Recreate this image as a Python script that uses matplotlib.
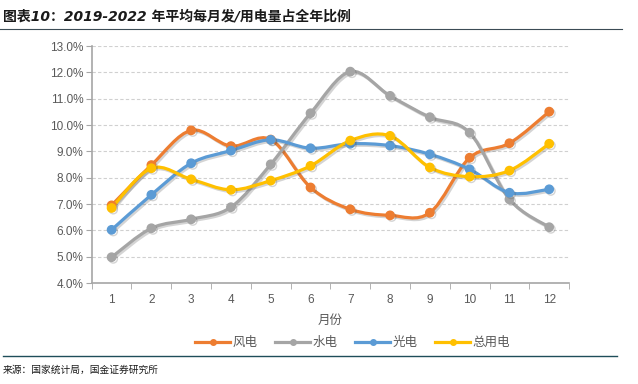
import matplotlib
matplotlib.use("Agg")
import matplotlib.pyplot as plt
import matplotlib.patheffects as pe
from matplotlib.path import Path
from matplotlib.patches import PathPatch
from matplotlib.lines import Line2D
from matplotlib.ticker import FuncFormatter, FixedLocator

plt.rcParams['font.family'] = ['Liberation Sans', 'Noto Sans CJK SC', 'DejaVu Sans']

# ----- DATA -----
months = [1, 2, 3, 4, 5, 6, 7, 8, 9, 10, 11, 12]
wind  = [6.95, 8.48, 9.80, 9.20, 9.45, 7.63, 6.80, 6.57, 6.67, 8.76, 9.31, 10.51]
hydro = [4.98, 6.08, 6.42, 6.88, 8.51, 10.45, 12.03, 11.11, 10.30, 9.71, 7.18, 6.12]
solar = [6.02, 7.35, 8.55, 9.03, 9.44, 9.12, 9.29, 9.22, 8.89, 8.32, 7.43, 7.56]
total = [6.85, 8.36, 7.94, 7.54, 7.89, 8.45, 9.41, 9.59, 8.39, 8.04, 8.27, 9.29]
names = ["风电", "水电", "光电", "总用电"]
colors = ["#ED7D31", "#A5A5A5", "#5B9BD5", "#FFC000"]

title = "图表10：2019-2022 年平均每月发/用电量占全年比例"
source = "来源：国家统计局，国金证券研究所"


def smooth_path(xs, ys):
    # Excel-like smoothed line: Catmull-Rom segments as cubic Beziers
    pts = list(zip(xs, ys))
    verts = [pts[0]]
    codes = [Path.MOVETO]
    n = len(pts)
    for i in range(n - 1):
        p0 = pts[i - 1] if i > 0 else pts[i]
        p1 = pts[i]
        p2 = pts[i + 1]
        p3 = pts[i + 2] if i + 2 < n else pts[i + 1]
        c1 = (p1[0] + (p2[0] - p0[0]) / 6, p1[1] + (p2[1] - p0[1]) / 6)
        c2 = (p2[0] - (p3[0] - p1[0]) / 6, p2[1] - (p3[1] - p1[1]) / 6)
        verts += [c1, c2, p2]
        codes += [Path.CURVE4] * 3
    return Path(verts, codes)


fig = plt.figure(figsize=(6.38, 3.84), dpi=100)
ax = fig.add_axes([0.1437, 0.263, 0.7483, 0.617])

shadow = [pe.SimpleLineShadow(offset=(1.2, -1.2), alpha=0.25, shadow_color='#555555'), pe.Normal()]

series = [wind, hydro, solar, total]
for vals, c in zip(series, colors):
    patch = PathPatch(smooth_path(months, vals), facecolor='none', edgecolor=c,
                      lw=2.3, capstyle='round', joinstyle='round', zorder=3)
    patch.set_path_effects(shadow)
    ax.add_patch(patch)
    ax.plot(months, vals, ls='none', marker='o', ms=6, color=c, zorder=4,
            path_effects=shadow)

ax.set_xlim(0.5, 12.5)
ax.set_ylim(4, 13)
ax.set_yticks([4, 5, 6, 7, 8, 9, 10, 11, 12, 13])
ax.yaxis.set_major_formatter(FuncFormatter(lambda v, p: f"{v:.1f}%"))
ax.set_xticks(months)
ax.xaxis.set_minor_locator(FixedLocator([m + 0.5 for m in [0] + months]))
ax.tick_params(axis='x', which='major', length=0, pad=8, labelsize=8.5)
ax.tick_params(axis='x', which='minor', length=4, color='#A6A6A6', direction='out')
ax.tick_params(axis='y', length=4, color='#A6A6A6', labelsize=8.5, pad=2)
for lbl in ax.get_xticklabels() + ax.get_yticklabels():
    lbl.set_color('#595959')

ax.grid(axis='y', ls=(0, (3, 2)), color='#D0D0D0', lw=0.8)
ax.set_axisbelow(True)
for s in ['top', 'right']:
    ax.spines[s].set_visible(False)
for s in ['left', 'bottom']:
    ax.spines[s].set_color('#A6A6A6')
    ax.spines[s].set_linewidth(1.2)

ax.set_xlabel("月份", fontsize=9, color='#595959', labelpad=6)

handles = [Line2D([], [], color=c, lw=2.3, marker='o', ms=4) for c in colors]
fig.legend(handles, names, loc='center', bbox_to_anchor=(0.553, 0.107), ncol=4,
           frameon=False, fontsize=9, handlelength=2.8, handletextpad=0.2,
           columnspacing=1.4, labelcolor='#595959')

fig.text(0.005, 0.958, title, fontsize=10, fontweight='bold', color='#1a1a1a',
         ha='left', va='center', family=['DejaVu Sans', 'Noto Sans CJK SC'], style='italic')
fig.add_artist(Line2D([0.0, 0.975], [0.924, 0.924], color='#3b4b55', lw=0.8))
fig.add_artist(Line2D([0.005, 0.967], [0.073, 0.073], color='#1F4E5A', lw=1.0))
fig.text(0.005, 0.036, source, fontsize=7, color='#1a1a1a', ha='left', va='center',
         family=['Noto Sans CJK SC'])

fig.savefig("out.png", dpi=100)
